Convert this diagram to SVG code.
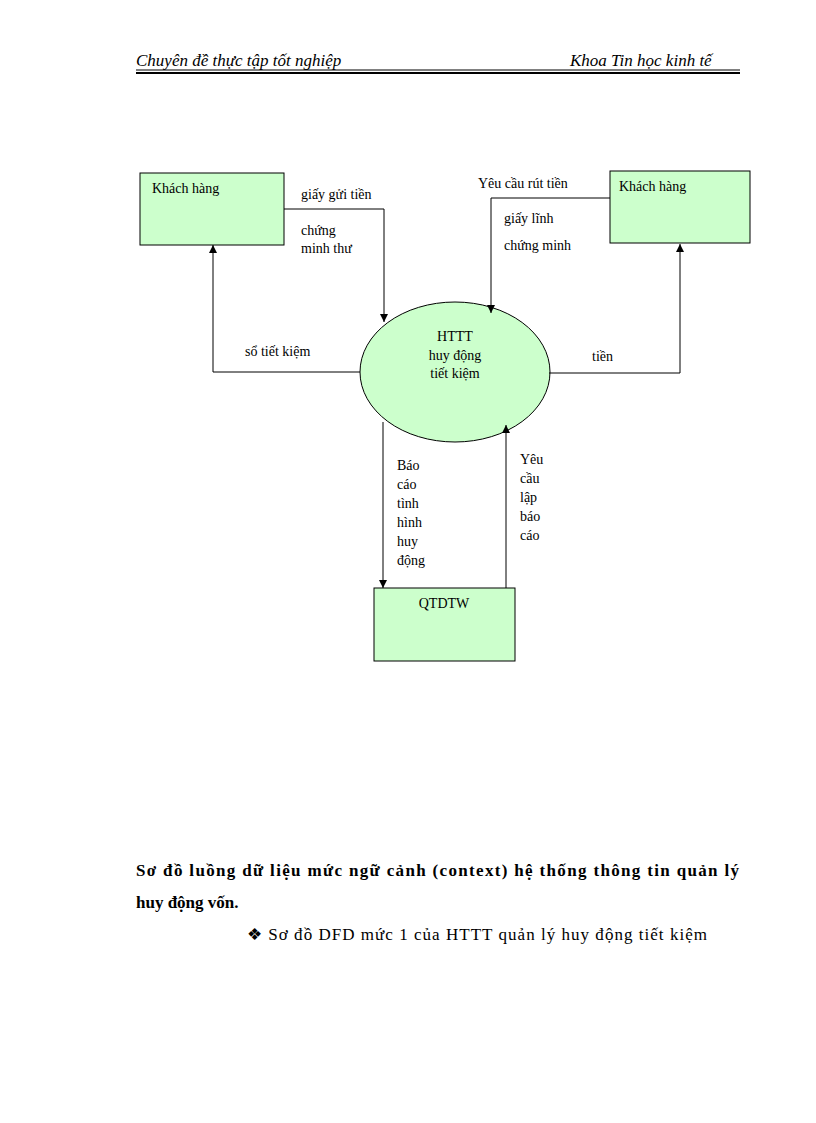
<svg xmlns="http://www.w3.org/2000/svg" width="816" height="1123" viewBox="0 0 816 1123">
<style>
text{font-family:"Liberation Serif",serif;font-size:14px;fill:#000}
.box{fill:#ccffcc;stroke:#000;stroke-width:1}
.ln{fill:none;stroke:#000;stroke-width:1}
.hd{font-style:italic;font-size:17px}
</style>
<defs><marker id="a" markerWidth="8" markerHeight="8" refX="8" refY="4" orient="auto" markerUnits="userSpaceOnUse" viewBox="0 0 8 8"><path d="M0,0 L8,4 L0,8z" fill="#000"/></marker></defs>
<rect width="816" height="1123" fill="#fff"/>
<text class="hd" x="136" y="66">Chuyên đề thực tập tốt nghiệp</text>
<text class="hd" x="570" y="66">Khoa Tin học kinh tế</text>
<line x1="136" y1="70" x2="740" y2="70" stroke="#000" stroke-width="1"/>
<line x1="136" y1="73" x2="740" y2="73" stroke="#000" stroke-width="2"/>
<g id="kh1"><rect class="box" x="140" y="173" width="144" height="72"/><text x="152" y="193">Khách hàng</text></g>
<g id="kh2"><rect class="box" x="610" y="171" width="140" height="72"/><text x="619" y="191">Khách hàng</text></g>
<g id="httt"><ellipse class="box" cx="455" cy="372" rx="95" ry="70"/><text x="455" y="341" text-anchor="middle">HTTT</text><text x="455" y="360" text-anchor="middle">huy động</text><text x="455" y="378" text-anchor="middle">tiết kiệm</text></g>
<g id="qtdtw"><rect class="box" x="374" y="588" width="141" height="73"/><text x="444" y="608" text-anchor="middle">QTDTW</text></g>
<g id="connectors">
<polyline class="ln" points="284,209 384,209 384,322" marker-end="url(#a)"/>
<polyline class="ln" points="610,198 491,198 491,313" marker-end="url(#a)"/>
<polyline class="ln" points="360,372 213,372 213,245" marker-end="url(#a)"/>
<polyline class="ln" points="549,373 680,373 680,244" marker-end="url(#a)"/>
<line class="ln" x1="383" y1="422" x2="383" y2="588" marker-end="url(#a)"/>
<line class="ln" x1="506" y1="588" x2="506" y2="425" marker-end="url(#a)"/>
</g>
<g id="labels">
<text x="301" y="199">giấy gửi tiền</text>
<text x="301" y="235">chứng</text><text x="301" y="253">minh  thư</text>
<text x="478" y="188">Yêu cầu rút tiền</text>
<text x="504" y="223">giấy lĩnh</text>
<text x="504" y="250">chứng minh</text>
<text x="245" y="356">sổ tiết kiệm</text>
<text x="592" y="361">tiền</text>
<text x="397" y="470">Báo</text><text x="397" y="489">cáo</text><text x="397" y="508">tình</text><text x="397" y="527">hình</text><text x="397" y="546">huy</text><text x="397" y="565">động</text>
<text x="520" y="464">Yêu</text><text x="520" y="483">cầu</text><text x="520" y="502">lập</text><text x="520" y="521">báo</text><text x="520" y="540">cáo</text>
</g>
<text x="136" y="876" textLength="603" lengthAdjust="spacing" style="font-size:17px;font-weight:bold">Sơ đồ luồng dữ liệu mức ngữ cảnh (context) hệ thống thông tin quản lý</text>
<text x="136" y="908" style="font-size:17px;font-weight:bold">huy động vốn.</text>
<text x="247" y="940" textLength="460" lengthAdjust="spacing" style="font-size:17px">❖ Sơ đồ DFD mức 1 của HTTT quản lý huy động tiết kiệm</text>
</svg>
